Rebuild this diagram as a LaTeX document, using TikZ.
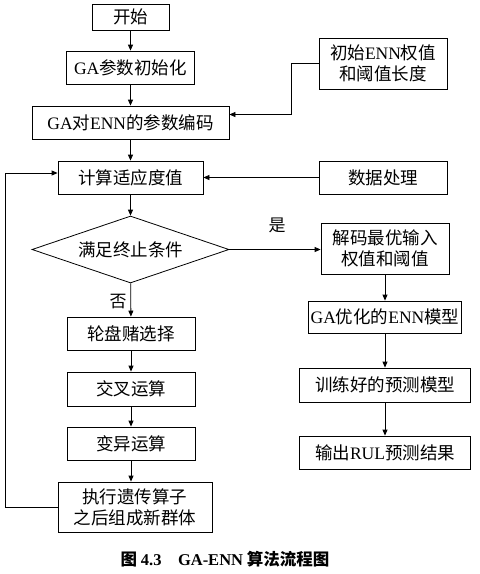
\documentclass[tikz,border=0pt]{standalone}
\usepackage{fontspec}
\setmainfont{Noto Sans CJK SC}
\newfontfamily\lat{Liberation Serif}
\usepackage{tikz}
\usetikzlibrary{shapes.geometric, arrows.meta}

\begin{document}
\begin{tikzpicture}[
    x=1pt, y=-1pt,
    >={Triangle[length=6pt,width=5pt]},
    line width=0.8pt,
    box/.style={draw, minimum width=128pt, minimum height=33pt, inner sep=2pt,
                font=\fontsize{17.5}{21}\selectfont, align=center},
    decision/.style={draw, diamond, aspect=2.94, minimum width=197pt, minimum height=67pt,
                inner sep=0pt, font=\fontsize{17.5}{21}\selectfont},
    arr/.style={->},
    lbl/.style={font=\fontsize{17}{21}\selectfont},
]
\useasboundingbox (0,0) rectangle (480,574);

% === Left column: GA loop ===
\node[box, minimum width=77pt, minimum height=26pt] (start) at (130.5,17) {开始};
\node[box] (init) at (130.5,67.5) {{\lat GA}参数初始化};
\node[box, minimum width=197pt] (encode) at (130.5,122.5) {{\lat GA}对{\lat ENN}的参数编码};
\node[box, minimum width=145pt] (fit) at (130.5,177.5) {计算适应度值};
\node[decision] (cond) at (130.5,249.5) {满足终止条件};
\node[box] (sel) at (131,333.5) {轮盘赌选择};
\node[box, minimum height=34pt] (cross) at (131,389) {交叉运算};
\node[box] (mut) at (131,443.5) {变异运算};
\node[box, minimum width=154pt, minimum height=50pt] (newpop) at (135,507) {执行遗传算子\\之后组成新群体};

% === Right column ===
\node[box, minimum height=51pt] (enninit) at (383,63.5) {初始{\lat ENN}权值\\和阈值长度};
\node[box] (data) at (383,177.5) {数据处理};
\node[box, minimum height=51pt] (decode) at (385,248.5) {解码最优输入\\权值和阈值};
\node[box, minimum width=145pt, minimum height=32pt] (gaenn) at (385,317) {{\lat GA}优化的{\lat ENN}模型};
\node[box, minimum width=171pt, minimum height=34pt] (train) at (385,385) {训练好的预测模型};
\node[box, minimum width=171pt] (out) at (385,452.5) {输出{\lat RUL}预测结果};

% === Connectors ===
\draw[arr] (start) -- (init);
\draw[arr] (init) -- (encode);
\draw[arr] (encode) -- (fit);
\draw[arr] (fit) -- (cond);
\draw[arr] (cond) -- (sel);
\draw[arr] (sel) -- (cross);
\draw[arr] (cross) -- (mut);
\draw[arr] (mut.south) -- (mut.south |- newpop.north);

\draw[arr] (enninit.west) -- ++(-27,0) |- ([yshift=8pt]encode.east);
\draw[arr] (data) -- (fit);
\draw[arr] (cond.east) -- (cond.east -| decode.west);
\draw[arr] (decode) -- (gaenn);
\draw[arr] (gaenn) -- (train);
\draw[arr] (train) -- (out);

% feedback loop
\draw[arr] (newpop.west) -- ++(-52,0) |- ([yshift=4.5pt]fit.west);

% labels
\node[lbl] (yes) at (277,225) {是};
\node[lbl] (no) at (118,302) {否};

% caption
\node[font=\fontsize{16.5}{18}\selectfont\bfseries] (cap) at (225,559) {图 {\lat 4.3\quad GA-ENN} 算法流程图};

\end{tikzpicture}
\end{document}
